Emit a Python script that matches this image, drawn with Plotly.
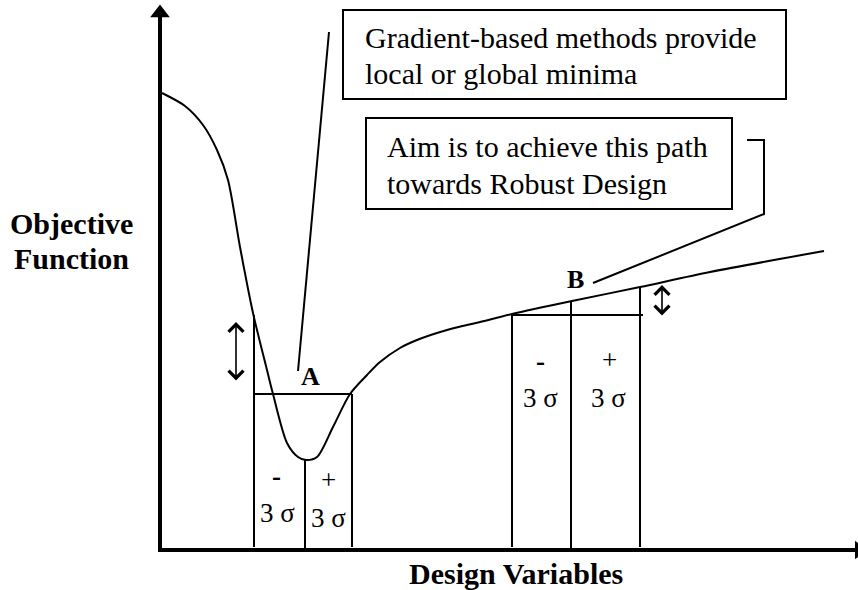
import plotly.graph_objects as go

# ---------------- data (schematic units: x = design variable, y = objective) -------------
curve_x = [2, 25, 43, 57, 68, 80, 93, 107, 113, 127, 138, 146, 157, 173, 190, 207, 220,
           240, 257, 287, 320, 352, 412, 480, 550, 664]
curve_y = [457, 444, 425, 400, 370, 303, 237, 180, 156, 107, 93, 90, 93, 123, 156, 175, 188,
           202, 210, 220, 228, 236, 249, 263, 278, 299]

# box A (around the sharp minimum)
boxA_edges_x = [94, 145, 192]        # left edge, centre (minimum), right edge
boxA_edges_top = [235, 90, 156]
boxA_edges_bottom = [3, 0, 3]
boxA_top_y = 156

# box B (on the flat, robust region)
boxB_edges_x = [352, 411, 480]
boxB_edges_top = [235, 249, 263]
boxB_edges_bottom = [3, 0, 3]
boxB_top_y = 235
boxB_top_x_end = 483

# variation arrows (x, y_top, y_bottom)
varA = [76, 228, 168]
varB = [502, 265, 233]

# call-out boxes
box1_x = [183, 626]
box1_y = [451, 540]
box1_lines = ["Gradient-based methods provide", "local or global minima"]
box1_text_y = [513, 477]
box1_text_x = 203

box2_x = [206, 572]
box2_y = [341, 432]
box2_lines = ["Aim is to achieve this path", "towards Robust Design"]
box2_text_y = [404, 367]
box2_text_x = 225

leader1_x = [169, 138]
leader1_y = [518, 179]
leader2_x = [433, 604, 604, 587]
leader2_y = [267, 336, 410, 410]

# axis labels
ylabel_lines = ["Objective", "Function"]
ylabel_x = -89
ylabel_y = [327, 292]
xlabel = "Design Variables"
xlabel_pos = [356, -23]

point_labels = ["A", "B"]
point_label_x = [150, 415]
point_label_y = [174, 271]

sign_labels = ["-", "+", "3 σ", "3 σ", "-", "+", "3 σ", "3 σ"]
sign_x = [116, 168, 117, 168, 380, 449, 380, 448]
sign_y = [74, 70, 37, 32, 189, 190, 152, 152]

X_RANGE = [-160, 698]
Y_RANGE = [-40, 550]
Y_AXIS_END = 533
X_AXIS_END = 699

SERIF = "Liberation Serif, Times New Roman, serif"
BLACK = "black"

fig = go.Figure()

# axes (drawn as thick lines with arrow heads)
fig.add_trace(go.Scatter(x=[0, 0], y=[0, Y_AXIS_END], mode="lines",
                         line=dict(color=BLACK, width=4), hoverinfo="skip"))
fig.add_trace(go.Scatter(x=[-2, X_AXIS_END], y=[0, 0], mode="lines",
                         line=dict(color=BLACK, width=4), hoverinfo="skip"))
fig.add_trace(go.Scatter(x=[0], y=[Y_AXIS_END + 4], mode="markers",
                         marker=dict(symbol="triangle-up", size=17, color=BLACK),
                         hoverinfo="skip"))
fig.add_trace(go.Scatter(x=[X_AXIS_END], y=[0], mode="markers",
                         marker=dict(symbol="triangle-right", size=16, color=BLACK),
                         hoverinfo="skip"))

# objective function curve
fig.add_trace(go.Scatter(x=curve_x, y=curve_y, mode="lines",
                         line=dict(color=BLACK, width=2, shape="spline", smoothing=0.8),
                         hoverinfo="skip"))


def box_segments(edges_x, tops, bottoms, top_y, top_x_end=None):
    xs, ys = [], []
    for ex, t, b in zip(edges_x, tops, bottoms):
        xs += [ex, ex, None]
        ys += [b, t, None]
    xs += [edges_x[0], top_x_end if top_x_end is not None else edges_x[-1], None]
    ys += [top_y, top_y, None]
    return xs, ys


for ex, et, eb, ty, te in [(boxA_edges_x, boxA_edges_top, boxA_edges_bottom, boxA_top_y, None),
                           (boxB_edges_x, boxB_edges_top, boxB_edges_bottom, boxB_top_y, boxB_top_x_end)]:
    xs, ys = box_segments(ex, et, eb, ty, te)
    fig.add_trace(go.Scatter(x=xs, y=ys, mode="lines",
                             line=dict(color=BLACK, width=2), hoverinfo="skip"))

# leader lines
fig.add_trace(go.Scatter(x=leader1_x, y=leader1_y, mode="lines",
                         line=dict(color=BLACK, width=2), hoverinfo="skip"))
fig.add_trace(go.Scatter(x=leader2_x, y=leader2_y, mode="lines",
                         line=dict(color=BLACK, width=2), hoverinfo="skip"))

# call-out boxes
for bx, by in [(box1_x, box1_y), (box2_x, box2_y)]:
    fig.add_shape(type="rect", xref="x", yref="y", x0=bx[0], x1=bx[1], y0=by[0], y1=by[1],
                  line=dict(color=BLACK, width=2), fillcolor="rgba(0,0,0,0)")

for txt, ty in zip(box1_lines, box1_text_y):
    fig.add_annotation(x=box1_text_x, y=ty, text=txt, showarrow=False, xanchor="left",
                       yanchor="middle", font=dict(family=SERIF, size=30, color=BLACK))
for txt, ty in zip(box2_lines, box2_text_y):
    fig.add_annotation(x=box2_text_x, y=ty, text=txt, showarrow=False, xanchor="left",
                       yanchor="middle", font=dict(family=SERIF, size=30, color=BLACK))

# variation double arrows
for vx, vt, vb in [varA, varB]:
    fig.add_annotation(x=vx, y=vt, ax=vx, ay=vb, xref="x", yref="y", axref="x", ayref="y",
                       text="", showarrow=True, arrowside="end+start",
                       arrowhead=4, startarrowhead=4, arrowwidth=1.6,
                       arrowsize=1.8, startarrowsize=1.8, arrowcolor=BLACK,
                       standoff=0, startstandoff=0)

# axis labels
for txt, ty in zip(ylabel_lines, ylabel_y):
    fig.add_annotation(x=ylabel_x, y=ty, text="<b>" + txt + "</b>", showarrow=False,
                       font=dict(family=SERIF, size=30, color=BLACK))
fig.add_annotation(x=xlabel_pos[0], y=xlabel_pos[1], text="<b>" + xlabel + "</b>",
                   showarrow=False, font=dict(family=SERIF, size=30, color=BLACK))

# point labels A, B
for txt, px, py in zip(point_labels, point_label_x, point_label_y):
    fig.add_annotation(x=px, y=py, text="<b>" + txt + "</b>", showarrow=False,
                       font=dict(family=SERIF, size=26, color=BLACK))

# +/- 3 sigma labels
for txt, px, py in zip(sign_labels, sign_x, sign_y):
    t = "<b>" + txt + "</b>" if txt == "-" else txt
    fig.add_annotation(x=px, y=py, text=t, showarrow=False,
                       font=dict(family=SERIF, size=27, color=BLACK))

fig.update_layout(
    width=858, height=590,
    margin=dict(l=0, r=0, t=0, b=0),
    paper_bgcolor="white", plot_bgcolor="white",
    showlegend=False,
    xaxis=dict(range=X_RANGE, visible=False, fixedrange=True),
    yaxis=dict(range=Y_RANGE, visible=False, fixedrange=True),
)

fig.write_html(
    "out.html",
    config={"displayModeBar": False},
    post_script="document.body.style.margin='0px';document.body.style.overflow='hidden';",
)
